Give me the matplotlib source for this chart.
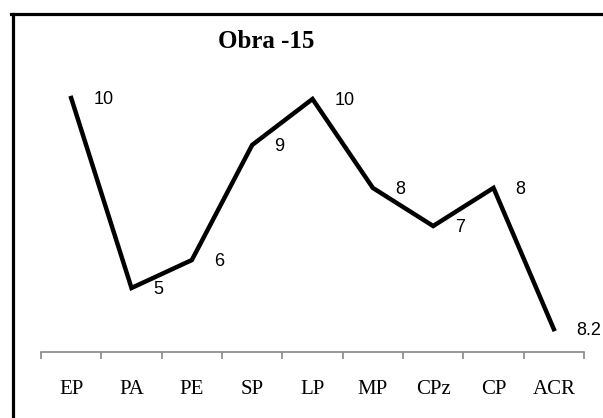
import matplotlib
matplotlib.use('Agg')
import matplotlib.pyplot as plt
from matplotlib.lines import Line2D

# categories along the x axis
categories = ['EP', 'PA', 'PE', 'SP', 'LP', 'MP', 'CPz', 'CP', 'ACR']
# line heights (hidden y axis)
heights = [10.0, 2.52, 3.62, 8.15, 9.96, 6.46, 4.96, 6.46, 0.9]
# data labels as printed on the chart
labels = ['10', '5', '6', '9', '10', '8', '7', '8', '8.2']
title = 'Obra -15'

W, H = 603, 418
fig = plt.figure(figsize=(W / 100, H / 100), dpi=100)

# axes placed in pixel terms: x 41..584, y 352 (bottom) .. 40 (top)
ax_left, ax_right, ax_bot, ax_top = 41, 584, 352, 40
ax = fig.add_axes([ax_left / W, 1 - ax_bot / H,
                   (ax_right - ax_left) / W, (ax_bot - ax_top) / H])
ax.set_xlim(-0.5, len(categories) - 0.5)
ax.set_ylim(0, (ax_bot - ax_top) / 25.4)

x = list(range(len(categories)))
ax.plot(x, heights, color='black', linewidth=3.2, solid_joinstyle='miter')

for xi, hi, lab in zip(x, heights, labels):
  ax.annotate(lab, (xi, hi), xytext=(16, -1), textcoords='offset points',
              ha='left', va='center', fontsize=13,
              family='Liberation Sans', color='black')

# axis styling (Excel-like category axis)
for side in ['left', 'top', 'right']:
  ax.spines[side].set_visible(False)
ax.spines['bottom'].set_color('#888888')
ax.spines['bottom'].set_linewidth(1.2)
ax.set_yticks([])
ax.set_xticks(x)
ax.set_xticklabels(categories, family='Liberation Serif', fontsize=15)
ax.tick_params(axis='x', which='major', length=0, pad=20)
ax.set_xticks([i - 0.5 for i in range(len(categories) + 1)], minor=True)
ax.tick_params(axis='x', which='minor', length=5, width=1.2, color='#888888',
               direction='out')

# chart title
fig.text(266 / W, 1 - 41 / H, title, ha='center', va='center',
         family='Liberation Serif', fontweight='bold', fontsize=18)

# chart frame (left and top edges visible)
fig.add_artist(Line2D([12.5 / W, 12.5 / W], [1 - 13.5 / H, 0],
                      transform=fig.transFigure, color='black', linewidth=2.3))
fig.add_artist(Line2D([11 / W, 1], [1 - 13.5 / H, 1 - 13.5 / H],
                      transform=fig.transFigure, color='black', linewidth=2.3))

fig.savefig('out.png', dpi=100)
